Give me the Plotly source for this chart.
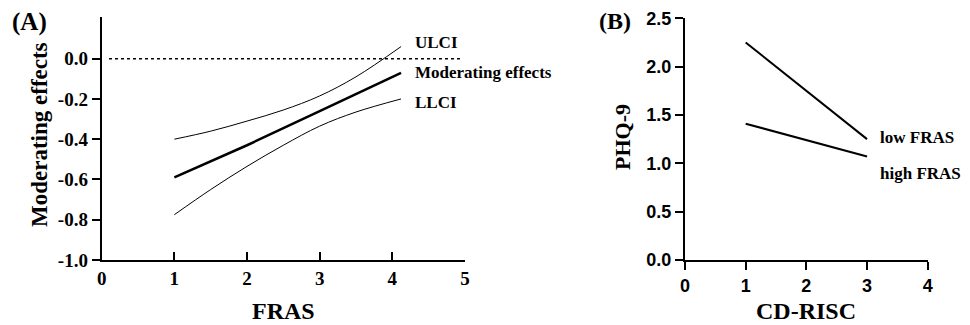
import plotly.graph_objects as go

# Panel A data
fras_x = [1, 2, 3, 4.12]
moderating = [-0.59, -0.43, -0.26, -0.07]
ulci_x = [1, 1.5, 2, 2.5, 3, 3.5, 4.12]
ulci = [-0.40, -0.36, -0.31, -0.255, -0.185, -0.09, 0.06]
llci_x = [1, 1.5, 2, 2.5, 3, 3.5, 4.12]
llci = [-0.775, -0.65, -0.535, -0.43, -0.335, -0.265, -0.20]
zero_x = [0.1, 4.95]
zero_y = [0, 0]
a_yticks = [0.0, -0.2, -0.4, -0.6, -0.8, -1.0]
a_yticktext = ["0.0", "-0.2", "-0.4", "-0.6", "-0.8", "-1.0"]
a_xticks = [0, 1, 2, 3, 4, 5]

# Panel B data
cd_risc = [1, 3]
low_fras = [2.25, 1.25]
high_fras = [1.41, 1.07]
b_yticks = [0.0, 0.5, 1.0, 1.5, 2.0, 2.5]
b_yticktext = ["0.0", "0.5", "1.0", "1.5", "2.0", "2.5"]
b_xticks = [0, 1, 2, 3, 4]

OFF = 8  # page body margin
W, H = 970 - OFF, 325 - OFF
def px(x):
    return (x - OFF) / W
def py(y):
    return 1 - (y - OFF) / H

serif = "Liberation Serif, Times New Roman, serif"
sans = "Liberation Sans, Arial, sans-serif"

fig = go.Figure()
fig.add_trace(go.Scatter(x=zero_x, y=zero_y, mode="lines",
                         line=dict(color="black", width=1.5, dash="dot"),
                         xaxis="x", yaxis="y", showlegend=False))
fig.add_trace(go.Scatter(x=ulci_x, y=ulci, mode="lines", line=dict(color="black", width=1, shape="spline"),
                         xaxis="x", yaxis="y", showlegend=False))
fig.add_trace(go.Scatter(x=llci_x, y=llci, mode="lines", line=dict(color="black", width=1, shape="spline"),
                         xaxis="x", yaxis="y", showlegend=False))
fig.add_trace(go.Scatter(x=fras_x, y=moderating, mode="lines", line=dict(color="black", width=2.5),
                         xaxis="x", yaxis="y", showlegend=False))

fig.add_trace(go.Scatter(x=cd_risc, y=low_fras, mode="lines", line=dict(color="black", width=2),
                         xaxis="x2", yaxis="y2", showlegend=False))
fig.add_trace(go.Scatter(x=cd_risc, y=high_fras, mode="lines", line=dict(color="black", width=2),
                         xaxis="x2", yaxis="y2", showlegend=False))

axA = dict(showline=True, linecolor="black", linewidth=2, showgrid=False, zeroline=False,
           mirror=False, ticklen=8, tickwidth=2, tickcolor="black", automargin=False)

fig.update_layout(
    width=W, height=H, margin=dict(l=0, r=0, t=0, b=0, autoexpand=False),
    plot_bgcolor="white", paper_bgcolor="white",
    xaxis=dict(axA, domain=[px(101.7), px(465)], range=[0, 5], tickvals=a_xticks,
               ticks="inside", anchor="y",
               tickfont=dict(family=serif, size=19, color="black", weight="bold")),
    yaxis=dict(axA, domain=[py(260), py(17)], range=[-1, 0.207], tickvals=a_yticks,
               ticktext=a_yticktext, ticks="outside", anchor="x",
               tickfont=dict(family=serif, size=19, color="black", weight="bold")),
    xaxis2=dict(axA, domain=[px(685), px(927.7)], range=[0, 4], tickvals=b_xticks,
                ticks="outside", anchor="y2",
                tickfont=dict(family=sans, size=18, color="black", weight="bold")),
    yaxis2=dict(axA, domain=[py(260), py(18.3)], range=[0, 2.5], tickvals=b_yticks,
                ticktext=b_yticktext, ticks="outside", anchor="x2",
                tickfont=dict(family=sans, size=18, color="black", weight="bold")),
)

def ann(text, x, y, size, xref="paper", yref="paper", xanchor="center", yanchor="middle", angle=0, family=serif):
    fig.add_annotation(text=text, x=x, y=y, xref=xref, yref=yref, xanchor=xanchor, yanchor=yanchor,
                       showarrow=False, textangle=angle,
                       font=dict(family=family, size=size, color="black", weight="bold"))

# Panel A labels
ann("ULCI", 4.28, 0.08, 17, xref="x", yref="y", xanchor="left")
ann("Moderating effects", 4.28, -0.07, 17, xref="x", yref="y", xanchor="left")
ann("LLCI", 4.28, -0.22, 17, xref="x", yref="y", xanchor="left")
ann("(A)", px(29), py(22), 25)
ann("Moderating effects", px(40), py(135), 23, angle=-90)
ann("FRAS", px(283), py(311), 24)

# Panel B labels
ann("low FRAS", 3.18, 1.27, 17, xref="x2", yref="y2", xanchor="left")
ann("high FRAS", 3.18, 0.89, 17, xref="x2", yref="y2", xanchor="left")
ann("(B)", px(615), py(21), 24)
ann("PHQ-9", px(622), py(137), 22, angle=-90)
ann("CD-RISC", px(806), py(311), 24)

fig.write_html("out.html")
